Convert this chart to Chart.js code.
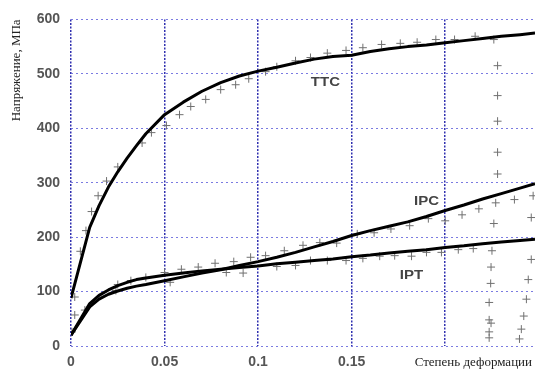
<!DOCTYPE html>
<html lang="ru">
<head>
<meta charset="UTF-8">
<title>Напряжение — степень деформации</title>
<script src="https://cdn.jsdelivr.net/npm/chart.js"></script>
<style>
  body { margin: 0; background: #fff; }
  canvas { display: block; }
</style>
</head>
<body>
<canvas id="stressChart" width="540" height="370"></canvas>
<script>
// расчётные кривые (сплошные линии)
const strainGrid = [0, 0.01, 0.015, 0.02, 0.025, 0.03, 0.035, 0.04, 0.05, 0.06, 0.07, 0.08, 0.09, 0.10,
                    0.11, 0.12, 0.13, 0.14, 0.15, 0.16, 0.17, 0.18, 0.19, 0.20, 0.21, 0.22, 0.23, 0.24, 0.248];
const ttcModel = [88, 218, 258, 292, 320, 345, 368, 390, 425, 448, 468, 484, 496, 505,
                  512, 520, 527, 532, 534, 541, 546, 550, 553, 557, 561, 565, 569, 572, 575];
const ipcModel = [20, 72, 86, 95, 101, 106, 110, 113, 120, 127, 134, 140, 148, 155,
                  163, 172, 182, 192, 203, 212, 220, 228, 238, 249, 259, 270, 280, 290, 298];
const iptModel = [20, 78, 93, 103, 111, 117, 122, 125, 130, 134, 138, 141, 144, 147,
                  151, 154, 157, 160, 164, 167, 171, 174, 177, 181, 184, 188, 191, 194, 196];

// эксперимент (крестики), включая разгрузку
const ttcExpStrain = [0.002, 0.005, 0.008, 0.011, 0.0145, 0.019, 0.025, 0.038, 0.043, 0.051, 0.058, 0.064,
                      0.072, 0.080, 0.088, 0.095, 0.104, 0.110, 0.120, 0.128, 0.137, 0.147, 0.156, 0.166,
                      0.176, 0.185, 0.195, 0.205, 0.216, 0.226, 0.228, 0.228, 0.228, 0.228, 0.228];
const ttcExpStress = [90, 174, 212, 247, 276, 303, 329, 373, 392, 405, 425, 440,
                      453, 471, 480, 491, 504, 513, 524, 530, 538, 543, 548, 554,
                      556, 558, 563, 563, 569, 563, 515, 460, 413, 356, 316];
const ipcExpStrain = [0.0074, 0.025, 0.032, 0.040, 0.050, 0.059, 0.068, 0.077, 0.087, 0.096, 0.104, 0.114,
                      0.124, 0.133, 0.142, 0.153, 0.162, 0.171, 0.181, 0.191, 0.200, 0.209, 0.218, 0.227,
                      0.237, 0.247, 0.226, 0.246, 0.246, 0.2444, 0.2434, 0.242, 0.2407, 0.2397];
const ipcExpStress = [66, 113, 120, 126, 135, 141, 145, 152, 155, 163, 166, 175,
                      185, 190, 189, 206, 208, 215, 221, 234, 230, 241, 252, 263,
                      269, 276, 225, 236, 159, 122, 86, 55, 31, 13];
const iptExpStrain = [0.0005, 0.002, 0.024, 0.053, 0.083, 0.092, 0.110, 0.120, 0.128, 0.137, 0.147, 0.156,
                      0.165, 0.173, 0.182, 0.190, 0.198, 0.207, 0.215, 0.225, 0.2245, 0.2243, 0.2235,
                      0.2235, 0.2245, 0.2235, 0.2235];
const iptExpStress = [26, 57, 102, 117, 135, 134, 146, 148, 157, 157, 157, 161,
                      165, 166, 165, 172, 172, 177, 179, 175, 145, 115, 80,
                      48, 42, 26, 15];

const yTicks = [0, 100, 200, 300, 400, 500, 600];
const xTicks = [0, 0.05, 0.1, 0.15, 0.2];
const xTickLabels = ['0', '0.05', '0.1', '0.15', ''];

const curveLabels = [
  { text: 'TTC', strain: 0.136, stress: 483 },
  { text: 'IPC', strain: 0.190, stress: 265 },
  { text: 'IPT', strain: 0.182, stress: 130 }
];

function pairs(xs, ys) {
  return xs.map((x, i) => ({ x: x, y: ys[i] }));
}

function modelSet(values) {
  return {
    data: pairs(strainGrid, values),
    showLine: true,
    borderColor: '#000',
    borderWidth: 3,
    borderJoinStyle: 'round',
    pointRadius: 0,
    tension: 0
  };
}

function expSet(xs, ys) {
  return {
    data: pairs(xs, ys),
    showLine: false,
    pointStyle: 'cross',
    pointRadius: 4,
    borderColor: '#707070',
    borderWidth: 1
  };
}

// подписи кривых и оси X
const textPlugin = {
  id: 'curveText',
  afterDatasetsDraw(chart) {
    const ctx = chart.ctx;
    const xs = chart.scales.x, ys = chart.scales.y;
    ctx.save();
    ctx.fillStyle = '#444';
    ctx.font = 'bold 12px "Liberation Sans", Arial, sans-serif';
    ctx.textAlign = 'center';
    ctx.textBaseline = 'middle';
    curveLabels.forEach(l => {
      ctx.save();
      ctx.translate(xs.getPixelForValue(l.strain), ys.getPixelForValue(l.stress));
      ctx.scale(1.25, 1);
      ctx.fillText(l.text, 0, 0);
      ctx.restore();
    });
    ctx.fillStyle = '#222';
    ctx.font = '13px "Liberation Serif", "Times New Roman", serif';
    ctx.textAlign = 'right';
    ctx.fillText('Степень деформации', chart.chartArea.right - 3, chart.chartArea.bottom + 17);
    ctx.restore();
  }
};

new Chart(document.getElementById('stressChart'), {
  type: 'scatter',
  data: {
    datasets: [
      modelSet(ttcModel),
      modelSet(ipcModel),
      modelSet(iptModel),
      expSet(ttcExpStrain, ttcExpStress),
      expSet(ipcExpStrain, ipcExpStress),
      expSet(iptExpStrain, iptExpStress)
    ]
  },
  options: {
    responsive: false,
    animation: false,
    layout: { padding: { top: 18, right: 0, left: 0, bottom: 0 } },
    plugins: { legend: { display: false }, tooltip: { enabled: false } },
    scales: {
      x: {
        type: 'linear',
        min: 0,
        max: 0.248,
        afterBuildTicks: scale => { scale.ticks = xTicks.map(v => ({ value: v })); },
        afterFit: scale => { scale.height = 24; },
        ticks: {
          padding: 8,
          color: '#555',
          font: { family: '"Liberation Sans", Arial, sans-serif', size: 14, weight: 'bold' },
          callback: (v, i) => xTickLabels[i]
        },
        grid: { color: '#3030b0', lineWidth: 1.5, drawTicks: false },
        border: { display: false, dash: [2, 1.5] }
      },
      y: {
        min: 0,
        max: 600,
        afterBuildTicks: scale => { scale.ticks = yTicks.map(v => ({ value: v })); },
        afterFit: scale => { scale.width = 71; },
        ticks: {
          padding: 11,
          color: '#555',
          font: { family: '"Liberation Sans", Arial, sans-serif', size: 14, weight: 'bold' }
        },
        grid: { color: 'rgba(100,100,220,0.85)', lineWidth: 1, drawTicks: false },
        border: { display: false, dash: [2, 3] },
        title: {
          display: true,
          text: 'Напряжение, МПа',
          align: 'end',
          color: '#222',
          padding: { top: 9, bottom: 0 },
          font: { family: '"Liberation Serif", "Times New Roman", serif', size: 13 }
        }
      }
    }
  },
  plugins: [textPlugin]
});
</script>
</body>
</html>
